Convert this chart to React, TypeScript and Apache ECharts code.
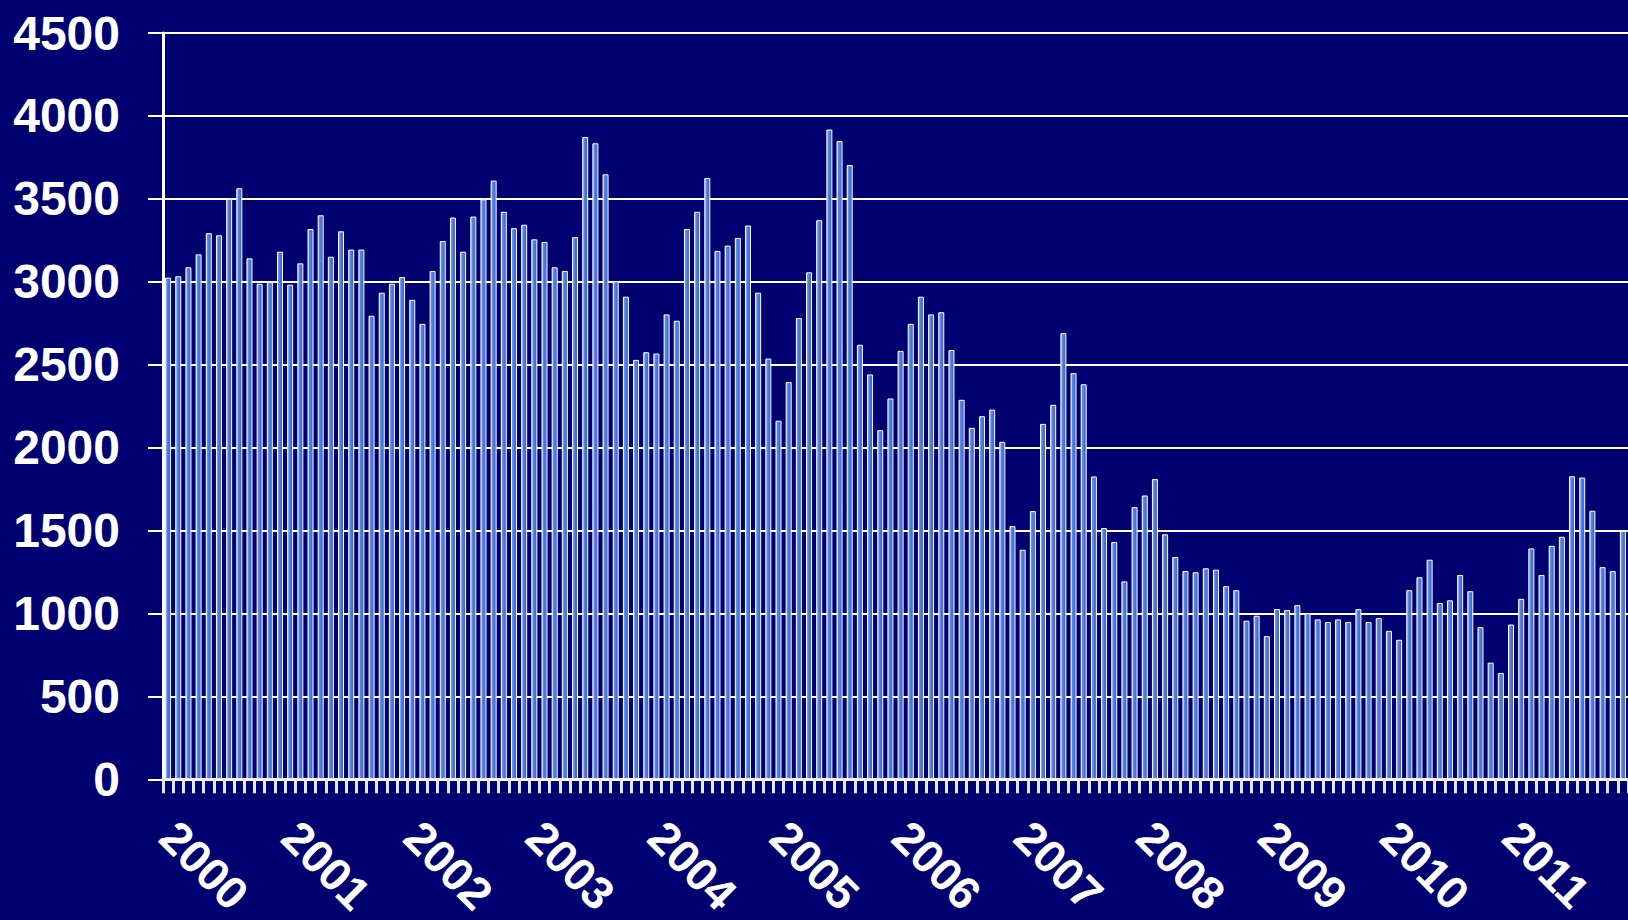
import React, { useEffect, useRef } from "react";
import * as echarts from "echarts";

const years = ["2000", "2001", "2002", "2003", "2004", "2005", "2006", "2007", "2008", "2009", "2010", "2011"];
const months = ["01", "02", "03", "04", "05", "06", "07", "08", "09", "10", "11", "12"];

const v2000 = [3025, 3033, 3087, 3165, 3293, 3280, 3500, 3564, 3141, 2988, 2998, 3181];
const v2001 = [2982, 3111, 3318, 3401, 3151, 3304, 3194, 3194, 2795, 2934, 2988, 3028];
const v2002 = [2891, 2746, 3065, 3245, 3387, 3181, 3393, 3497, 3610, 3422, 3323, 3344];
const v2003 = [3256, 3240, 3087, 3065, 3269, 3873, 3835, 3648, 3003, 2910, 2529, 2575];
const v2004 = [2567, 2803, 2765, 3318, 3422, 3626, 3186, 3218, 3264, 3339, 2934, 2537];
const v2005 = [2162, 2395, 2781, 3057, 3371, 3918, 3848, 3704, 2620, 2441, 2105, 2296];
const v2006 = [2583, 2746, 2910, 2803, 2816, 2588, 2288, 2119, 2189, 2229, 2035, 1526];
const v2007 = [1384, 1617, 2143, 2258, 2690, 2449, 2382, 1826, 1515, 1430, 1193, 1641];
const v2008 = [1711, 1810, 1477, 1340, 1256, 1248, 1272, 1264, 1164, 1140, 956, 986];
const v2009 = [863, 1026, 1020, 1050, 1000, 964, 948, 964, 948, 1026, 948, 972];
const v2010 = [895, 841, 1140, 1218, 1324, 1063, 1079, 1232, 1134, 917, 703, 641];
const v2011 = [933, 1088, 1392, 1232, 1408, 1462, 1827, 1819, 1619, 1279, 1255, 1497];

const yearValues = [v2000, v2001, v2002, v2003, v2004, v2005, v2006, v2007, v2008, v2009, v2010, v2011];

const yTicks = { min: 0, max: 4500, interval: 500 };

export default function App() {
  const ref = useRef<HTMLDivElement>(null);

  useEffect(() => {
    if (!ref.current) return;
    const chart = echarts.init(ref.current, null, { renderer: "svg" });

    const categories: string[] = [];
    const values: number[] = [];
    years.forEach((y, i) => {
      months.forEach((m, j) => {
        categories.push(`${y}-${m}`);
        values.push(yearValues[i][j]);
      });
    });

    const font = "'Liberation Sans', Arial, Helvetica, sans-serif";

    chart.setOption({
      animation: false,
      backgroundColor: "#000070",
      grid: { left: 163, top: 33, height: 748, width: 1469 },
      xAxis: {
        type: "category",
        data: categories,
        boundaryGap: true,
        axisLine: { show: true, lineStyle: { color: "#ffffff", width: 3 } },
        axisTick: {
          show: true,
          interval: 0,
          length: 14,
          lineStyle: { color: "#e6e6ee", width: 3 },
        },
        axisLabel: {
          interval: (index: number) => index % 12 === 0,
          formatter: (value: string) => value.slice(0, 4),
          rotate: -45,
          margin: 50,
          color: "#ffffff",
          fontSize: 46,
          fontWeight: "bold",
          fontFamily: font,
        },
        splitLine: { show: false },
      },
      yAxis: {
        type: "value",
        min: yTicks.min,
        max: yTicks.max,
        interval: yTicks.interval,
        axisLine: { show: true, lineStyle: { color: "#ffffff", width: 3 } },
        axisTick: { show: true, length: 15, lineStyle: { color: "#ffffff", width: 2 } },
        axisLabel: {
          formatter: (v: number) => String(v),
          color: "#ffffff",
          fontSize: 48,
          fontWeight: "bold",
          fontFamily: font,
          margin: 43,
        },
        splitLine: { show: true, lineStyle: { color: "#ffffff", width: 2 } },
      },
      series: [
        {
          type: "bar",
          data: values,
          barWidth: 6,
          itemStyle: {
            color: new echarts.graphic.LinearGradient(0, 0, 1, 0, [
              { offset: 0, color: "#9fb8f0" },
              { offset: 0.3, color: "#5f86dc" },
              { offset: 1, color: "#2f60d0" },
            ]),
            borderColor: "#ffffff",
            borderWidth: 1,
          },
        },
      ],
    });

    return () => chart.dispose();
  }, []);

  return (
    <div
      ref={ref}
      style={{ position: "fixed", left: 0, top: 0, width: 1628, height: 920 }}
    />
  );
}
